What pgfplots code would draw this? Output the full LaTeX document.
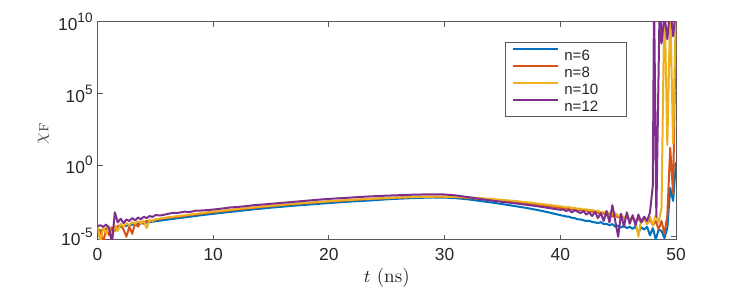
\documentclass[border=0pt]{standalone}
\usepackage{fontspec}
\setsansfont{Liberation Sans}
\usepackage{pgfplots}
\pgfplotsset{compat=1.18}
\definecolor{c1}{RGB}{0,114,189}
\definecolor{c2}{RGB}{217,83,25}
\definecolor{c3}{RGB}{237,177,32}
\definecolor{c4}{RGB}{126,47,142}
\newcommand{\tl}[1]{10\raisebox{0.45em}{\fontsize{6.8}{7}\selectfont #1}}
\begin{document}
\begin{tikzpicture}
\useasboundingbox (0,0) rectangle (373.5pt,144pt);
\begin{axis}[at={(48.75pt,24pt)}, anchor=south west, scale only axis,
  width=289.25pt, height=109pt,
  xmin=0, xmax=50, ymode=log, ymin=5.9e-6, ymax=1e10,
  xtick={0,10,20,30,40,50}, xticklabels={0,10,20,30,40,50},
  ytick={1e-5,1,1e5,1e10}, yticklabels={\tl{-5},\tl{0},\tl{5},\tl{10}},
  yminorticks=false,
  tick align=inside, major tick length=2.5pt,
  axis line style={black!65, line width=0.5pt},
  tick style={black!65, line width=0.5pt},
  ticklabel style={font=\sffamily\fontsize{8.7}{10}\selectfont, text=black!85},
  xticklabel style={inner sep=0pt, yshift=-4pt},
  yticklabel style={inner sep=0pt, xshift=-2.25pt},
  xlabel={$t$ (ns)}, ylabel={$\chi_{\mathrm{F}}$},
  xlabel style={at={(axis description cs:0.5,-0.172)}, anchor=center, font=\fontsize{9.5}{11}\selectfont, text=black!85},
  ylabel style={at={(axis description cs:-0.0934,0.491)}, anchor=center, font=\fontsize{9.5}{11}\selectfont, text=black!70},
  legend style={at={(axis description cs:0.7044,0.9069)}, anchor=north west, draw=black!65, fill=white,
    inner xsep=3.5pt, inner ysep=2.8pt, font=\sffamily\fontsize{7.5}{8}\selectfont, text=black!85,
    row sep=2.6pt, column sep=2.5pt, nodes={inner sep=0pt, text height=5.4pt, text depth=0pt, anchor=west}},
  legend image code/.code={\draw[#1, line width=1pt] (0pt,2.7pt) -- (22.5pt,2.7pt);},
]
\addplot[c1, line width=1pt, line join=round] coordinates {(0,2.5e-5)(1,3.5e-5)(2,5e-5)(3,6.9e-5)(4,9.1e-5)(5,1.2e-4)(6,1.55e-4)(7,2e-4)(8,2.5e-4)(9,3.2e-4)(10,4e-4)(11,4.9e-4)(12,6e-4)(13,7.4e-4)(14,8.9e-4)(15,1.07e-3)(16,1.26e-3)(17,1.48e-3)(18,1.7e-3)(19,1.95e-3)(20,2.24e-3)(21,2.57e-3)(22,2.9e-3)(23,3.2e-3)(24,3.6e-3)(25,4.1e-3)(26,4.5e-3)(27,4.9e-3)(28,5.2e-3)(29,5.5e-3)(30,5.4e-3)(31,4.9e-3)(32,4.1e-3)(33,3.2e-3)(34,2.5e-3)(35,1.9e-3)(36,1.41e-3)(37,1.05e-3)(38,7.4e-4)(39,5e-4)(40,3.2e-4)(40.25,2.9e-4)(40.5,2.6e-4)(40.75,2.5e-4)(41,2.1e-4)(41.25,2e-4)(41.5,1.66e-4)(41.75,1.6e-4)(42,1.4e-4)(42.25,1.26e-4)(42.5,1.3e-4)(42.75,1.07e-4)(43,1e-4)(43.25,8.9e-5)(43.5,1.05e-4)(43.75,7.6e-5)(44,8e-5)(44.25,6.3e-5)(44.5,7.6e-5)(44.75,5e-5)(45,6e-5)(45.25,4.5e-5)(45.5,5.6e-5)(45.75,4e-5)(46,5e-5)(46.25,3.5e-5)(46.5,5.2e-5)(46.75,2e-5)(47,4.5e-5)(47.25,3.2e-5)(47.5,5e-5)(47.75,1.26e-5)(48,4e-5)(48.25,6.3e-6)(48.5,3.2e-5)(48.75,2.5e-5)(49,8e-6)(49.25,4e-5)(49.5,2.5e-2)(49.75,3.2e-3)(50,1.6)};
\addlegendentry{\makebox[27.5pt][l]{n=6}}
\addplot[c2, line width=1pt, line join=round] coordinates {(0,3.5e-5)(0.25,2.5e-5)(0.5,4e-6)(0.75,4e-5)(1,1.26e-5)(1.25,4.5e-5)(1.5,2.5e-5)(1.75,5.6e-5)(2,6.3e-5)(2.25,3.2e-5)(2.5,1e-5)(2.75,5e-5)(3,1.6e-5)(3.25,8.9e-5)(3.5,5e-5)(3.75,1.12e-4)(4,8e-5)(4.25,1.26e-4)(4.5,1.12e-4)(4.75,1.4e-4)(5,1.5e-4)(6,2.1e-4)(7,2.5e-4)(8,3.3e-4)(9,4e-4)(10,5.2e-4)(11,6.3e-4)(12,7.9e-4)(13,9.5e-4)(14,1.15e-3)(15,1.38e-3)(16,1.62e-3)(17,1.9e-3)(18,2.2e-3)(19,2.5e-3)(20,2.9e-3)(21,3.2e-3)(22,3.6e-3)(23,4.1e-3)(24,4.5e-3)(25,4.9e-3)(26,5.4e-3)(27,5.8e-3)(28,6.2e-3)(29,6.3e-3)(30,6.3e-3)(31,5.9e-3)(32,5.2e-3)(33,4.5e-3)(34,3.8e-3)(35,3.2e-3)(36,2.6e-3)(37,2.1e-3)(38,1.74e-3)(39,1.38e-3)(40,1.05e-3)(40.25,1e-3)(40.5,8.9e-4)(40.75,1.05e-3)(41,7.9e-4)(41.25,8.9e-4)(41.5,7.1e-4)(41.75,7.9e-4)(42,6.3e-4)(42.25,7.1e-4)(42.5,5.2e-4)(42.75,6e-4)(43,4.5e-4)(43.25,5e-4)(43.5,3.8e-4)(43.75,4.5e-4)(44,3.2e-4)(44.25,4e-4)(44.5,2.5e-4)(44.75,3.5e-4)(45,2.2e-4)(45.25,2.8e-4)(45.5,1.8e-4)(45.75,2.5e-4)(46,1.4e-4)(46.25,2.2e-4)(46.5,1.26e-4)(46.75,2e-4)(47,1e-4)(47.25,1.8e-4)(47.5,8e-5)(47.75,1.6e-4)(48,6.3e-5)(48.25,1.26e-4)(48.5,3.2e-5)(48.75,1.26e-4)(49,1.6e-5)(49.25,3.2e-4)(49.5,16)(49.75,1e-2)(50,1e11)};
\addlegendentry{\makebox[27.5pt][l]{n=8}}
\addplot[c3, line width=1pt, line join=round] coordinates {(0,5e-5)(0.25,5e-6)(0.5,4.5e-5)(0.75,1.6e-5)(1,5.6e-5)(1.25,6.3e-6)(1.5,6.3e-5)(1.75,2.5e-5)(2,8e-5)(2.25,5e-5)(2.5,8.9e-5)(2.75,6.3e-5)(3,1.05e-4)(3.25,8e-5)(3.5,1.2e-4)(3.75,8.9e-5)(4,1.3e-4)(4.25,4e-5)(4.5,1.5e-4)(4.75,1.26e-4)(5,1.66e-4)(6,2.2e-4)(7,2.8e-4)(8,3.5e-4)(9,4.5e-4)(10,5.6e-4)(11,6.9e-4)(12,8.5e-4)(13,1.02e-3)(14,1.23e-3)(15,1.45e-3)(16,1.7e-3)(17,2e-3)(18,2.3e-3)(19,2.6e-3)(20,3e-3)(21,3.4e-3)(22,3.8e-3)(23,4.2e-3)(24,4.6e-3)(25,5e-3)(26,5.4e-3)(27,5.8e-3)(28,6e-3)(29,6.2e-3)(30,6.2e-3)(31,6e-3)(32,5.6e-3)(33,5e-3)(34,4.4e-3)(35,3.7e-3)(36,3.2e-3)(37,2.6e-3)(38,2.1e-3)(39,1.7e-3)(40,1.32e-3)(40.25,1.26e-3)(40.5,1.12e-3)(40.75,1.2e-3)(41,1e-3)(41.25,1.05e-3)(41.5,8.9e-4)(41.75,9.3e-4)(42,7.9e-4)(42.25,8.3e-4)(42.5,7.1e-4)(42.75,7.6e-4)(43,6e-4)(43.25,6.6e-4)(43.5,5e-4)(43.75,5.6e-4)(44,4.2e-4)(44.25,5e-4)(44.5,3.5e-4)(44.75,4.5e-4)(45,2.8e-4)(45.25,3.5e-4)(45.5,2e-4)(45.75,3.2e-4)(46,1.6e-4)(46.25,2.5e-4)(46.5,1.26e-4)(46.75,1e-5)(47,1.6e-4)(47.25,2e-4)(47.5,8e-5)(47.75,2.5e-4)(48,6.3e-5)(48.25,3.2e-4)(48.5,1e-4)(48.75,1e-3)(49,1e12)(49.25,25)(49.5,1e11)(49.75,30)(50,1e11)};
\addlegendentry{\makebox[27.5pt][l]{n=10}}
\addplot[c4, line width=1pt, line join=round] coordinates {(0,5.6e-5)(0.25,6.3e-5)(0.5,5e-5)(0.75,7.1e-5)(1,4e-5)(1.25,4e-6)(1.5,5e-4)(1.75,1e-4)(2,1.8e-4)(2.25,8.9e-5)(2.5,1.6e-4)(2.75,1.26e-4)(3,2e-4)(3.25,1.4e-4)(3.5,2.2e-4)(3.75,1.66e-4)(4,2.5e-4)(4.25,2e-4)(4.5,2.8e-4)(4.75,2.4e-4)(5,3.2e-4)(5.5,3.1e-4)(6,3.8e-4)(6.5,4.6e-4)(7,4.7e-4)(7.5,5.6e-4)(8,5.4e-4)(8.5,6.6e-4)(9,6.8e-4)(9.5,7.2e-4)(10,7.9e-4)(11,9.8e-4)(11.5,1.12e-3)(12,1.17e-3)(13,1.41e-3)(13.5,1.6e-3)(14,1.7e-3)(15,2e-3)(16,2.34e-3)(17,2.75e-3)(18,3.24e-3)(19,3.8e-3)(20,4.4e-3)(21,4.9e-3)(22,5.5e-3)(23,6.2e-3)(24,6.8e-3)(25,7.4e-3)(26,7.9e-3)(27,8.5e-3)(28,8.9e-3)(29,9.1e-3)(30,8.9e-3)(31,7.6e-3)(32,5.9e-3)(33,4.4e-3)(34,3.4e-3)(35,2.7e-3)(36,2.2e-3)(37,1.74e-3)(38,1.35e-3)(39,1.02e-3)(40,7.6e-4)(40.25,7.9e-4)(40.5,6.3e-4)(40.75,7.6e-4)(41,5e-4)(41.25,7.1e-4)(41.5,5.6e-4)(41.75,4.5e-4)(42,6.3e-4)(42.25,3.5e-4)(42.5,5e-4)(42.75,2.8e-4)(43,5.6e-4)(43.25,2e-4)(43.5,4.5e-4)(43.75,1.26e-4)(44,6.3e-4)(44.25,1e-4)(44.5,1.6e-3)(44.75,1.26e-4)(45,1e-5)(45.25,4e-4)(45.5,5e-5)(45.75,5e-4)(46,8e-5)(46.25,3.2e-4)(46.5,6.3e-5)(46.75,3.5e-4)(47,1e-4)(47.25,2.5e-4)(47.5,1.26e-4)(47.75,5e-4)(48,4e-2)(48.1,1e12)(48.3,2.5e-4)(48.6,1e12)(48.75,3.2e8)(49,3.2e10)(49.25,6.3e8)(49.5,1e11)(49.75,1e9)(50,1e11)};
\addlegendentry{\makebox[27.5pt][l]{n=12}}
\end{axis}
\end{tikzpicture}
\end{document}
